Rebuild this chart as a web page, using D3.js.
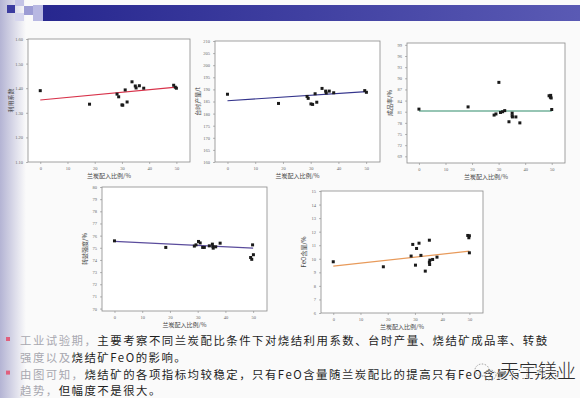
<!DOCTYPE html>
<html>
<head>
<meta charset="utf-8">
<script src="https://cdn.jsdelivr.net/npm/d3@7"></script>
<style>
  body { margin: 0; background: #fafafa; }
  svg { display: block; font-family: "Noto Sans CJK SC", "Noto Sans", sans-serif; }
</style>
</head>
<body>
<div id="slide"></div>
<script>
// shared x axis
const xTicks = [0, 10, 20, 30, 40, 50];
const xTitle = '兰炭配入比例/%';

// 利用系数
const utilX = [0, 18.1, 28.2, 28.8, 30.0, 30.3, 31.2, 31.9, 33.7, 34.9, 35.2, 36.4, 38.0, 49.0, 49.6, 50.0];
const utilY = [1.39, 1.335, 1.376, 1.365, 1.332, 1.331, 1.393, 1.344, 1.426, 1.409, 1.401, 1.41, 1.40, 1.412, 1.404, 1.40];
const utilFit = [1.352, 1.404];
const utilTicks = [1.1, 1.2, 1.3, 1.4, 1.5, 1.6];

// 台时产量
const outX = [0, 18.4, 28.7, 29.1, 30.1, 30.7, 31.6, 32.2, 34.1, 35.4, 35.6, 36.7, 38.3, 49.5, 50.1];
const outY = [188.0, 184.2, 187.1, 186.3, 184.0, 183.8, 188.2, 184.7, 190.4, 189.3, 188.5, 189.3, 188.6, 189.5, 188.8];
const outFit = [185.3, 189.1];
const outTicks = [160, 165, 170, 175, 180, 185, 190, 195, 200, 205, 210];

// 成品率
const yieldX = [0, 18.5, 28.3, 29.0, 30.1, 30.7, 31.5, 32.3, 33.9, 35.1, 35.1, 35.2, 36.5, 38.0, 49.0, 49.5, 49.8, 49.6, 50.0];
const yieldY = [81.7, 82.3, 80.1, 80.4, 88.9, 80.8, 81.0, 81.3, 78.3, 80.6, 79.9, 79.6, 79.6, 78.0, 85.3, 84.9, 84.7, 85.4, 81.6];
const yieldFit = [81.2, 81.2];
const yieldTicks = [69, 72, 75, 78, 81, 84, 87, 90, 93, 96, 99];

// 转鼓强度
const drumX = [0, 18.5, 28.8, 29.4, 30.3, 30.9, 31.8, 32.4, 34.2, 35.3, 35.5, 35.6, 36.5, 38.1, 49.8, 49.1, 49.5, 50.1];
const drumY = [75.57, 75.03, 75.14, 75.24, 75.52, 75.4, 75.03, 75.03, 75.16, 75.3, 75.1, 74.97, 75.08, 75.38, 75.24, 74.2, 74.05, 74.43];
const drumFit = [75.52, 74.97];
const drumTicks = [70, 71, 72, 73, 74, 75, 76, 77, 78, 79, 80];

// FeO含量
const feoX = [0, 18.4, 28.6, 29.2, 30.2, 30.6, 31.5, 32.2, 33.8, 35.3, 35.3, 35.4, 35.5, 36.5, 38.1, 49.4, 49.8, 50.0, 50.0];
const feoY = [9.78, 9.41, 10.2, 11.06, 9.53, 10.76, 11.15, 10.25, 9.09, 11.37, 9.75, 9.58, 9.9, 9.95, 10.12, 11.72, 11.55, 11.7, 10.44];
const feoFit = [9.46, 10.56];
const feoTicks = [6, 7, 8, 9, 10, 11, 12, 13, 14, 15];

const bulletLines = [
  ['工业试验期，', '主要考察不同兰炭配比条件下对烧结利用系数、台时产量、烧结矿成品率、转鼓'],
  ['强度以及', '烧结矿FeO的影响。'],
  ['由图可知，', '烧结矿的各项指标均较稳定，只有FeO含量随兰炭配比的提高只有FeO含量有上升的'],
  ['趋势，', '但幅度不是很大。']
];

const W = 580, H = 398;
const svg = d3.select('#slide').append('svg')
  .attr('width', W)
  .attr('height', H);

const defs = svg.append('defs');
const gl = defs.append('linearGradient').attr('id', 'leftStrip');
gl.append('stop').attr('offset', '0%').attr('stop-color', '#b4b4d4');
gl.append('stop').attr('offset', '100%').attr('stop-color', '#fafafa');
const gb = defs.append('linearGradient').attr('id', 'topBar');
gb.append('stop').attr('offset', '0%').attr('stop-color', '#26268e');
gb.append('stop').attr('offset', '100%').attr('stop-color', '#5a5ab4');

// slide chrome
svg.append('rect').attr('width', W).attr('height', H).attr('fill', '#fafafa');
svg.append('rect').attr('x', 0).attr('y', 0).attr('width', 26).attr('height', H).attr('fill', 'url(#leftStrip)');
svg.append('rect').attr('x', 33).attr('y', 5).attr('width', W - 33).attr('height', 16).attr('fill', 'url(#topBar)');
[[7, 5, 8, 8, '#3c3ca0'], [15, 0, 9, 6, '#c4c4e6'], [24, 6, 9, 9, '#9c9cd4'], [15, 13, 9, 8, '#d6d6ee'], [33, 5, 10, 16, '#b8b8e2']]
  .forEach(s => svg.append('rect').attr('x', s[0]).attr('y', s[1]).attr('width', s[2]).attr('height', s[3]).attr('fill', s[4]));

function drawChart(cfg) {
  const x = d3.scaleLinear().domain([-4.5, 55]).range([cfg.box.l, cfg.box.r]);
  const y = d3.scaleLinear().domain(cfg.yDomain).range([cfg.box.b, cfg.box.t]);
  const g = svg.append('g');

  g.append('rect')
    .attr('x', cfg.box.l).attr('y', cfg.box.t)
    .attr('width', cfg.box.r - cfg.box.l).attr('height', cfg.box.b - cfg.box.t)
    .attr('fill', '#fff').attr('stroke', '#8a8a8a').attr('stroke-width', 0.8);

  const xAxis = g.append('g')
    .attr('transform', `translate(0,${cfg.box.b})`)
    .call(d3.axisBottom(x).tickValues(xTicks).tickSize(2).tickPadding(3));
  const yAxis = g.append('g')
    .attr('transform', `translate(${cfg.box.l},0)`)
    .call(d3.axisLeft(y).tickValues(cfg.ticks).tickSize(2).tickPadding(3).tickFormat(cfg.fmt || d3.format('')));
  [xAxis, yAxis].forEach(a => {
    a.select('.domain').remove();
    a.selectAll('line').attr('stroke', '#888').attr('stroke-width', 0.6);
    a.selectAll('text').attr('font-size', 4.5).attr('fill', '#666').attr('font-family', 'Liberation Serif, serif');
  });

  g.append('line')
    .attr('x1', x(0)).attr('y1', y(cfg.fit[0]))
    .attr('x2', x(50)).attr('y2', y(cfg.fit[1]))
    .attr('stroke', cfg.color).attr('stroke-width', 1.2);

  g.selectAll('rect.pt')
    .data(cfg.xs.map((v, i) => [v, cfg.ys[i]]))
    .join('rect')
    .attr('class', 'pt')
    .attr('x', d => x(d[0]) - 1.5).attr('y', d => y(d[1]) - 1.5)
    .attr('width', 3).attr('height', 3)
    .attr('fill', '#1a1a1a');

  g.append('text')
    .attr('x', (cfg.box.l + cfg.box.r) / 2)
    .attr('y', cfg.box.b + 15.5)
    .attr('text-anchor', 'middle')
    .attr('font-size', 6).attr('fill', '#444')
    .text(xTitle);

  g.append('text')
    .attr('transform', `translate(${cfg.box.l - 15},${(cfg.box.t + cfg.box.b) / 2}) rotate(-90)`)
    .attr('text-anchor', 'middle')
    .attr('font-size', 6).attr('fill', '#444')
    .text(cfg.yTitle);
}

drawChart({ box: { l: 28, t: 39, r: 190, b: 162 }, yDomain: [1.1, 1.6], ticks: utilTicks, fmt: d3.format('.2f'),
  xs: utilX, ys: utilY, fit: utilFit, color: '#d8324a', yTitle: '利用系数' });
drawChart({ box: { l: 215, t: 41, r: 380, b: 162 }, yDomain: [160, 210], ticks: outTicks,
  xs: outX, ys: outY, fit: outFit, color: '#34348c', yTitle: '台时产量/t' });
drawChart({ box: { l: 407, t: 43, r: 565, b: 163 }, yDomain: [67.2, 99.5], ticks: yieldTicks,
  xs: yieldX, ys: yieldY, fit: yieldFit, color: '#2e8c6a', yTitle: '成品率/%' });
drawChart({ box: { l: 102, t: 187, r: 267, b: 311 }, yDomain: [69.8, 80], ticks: drumTicks,
  xs: drumX, ys: drumY, fit: drumFit, color: '#5a4c9c', yTitle: '转鼓强度/%' });
drawChart({ box: { l: 321, t: 191, r: 483, b: 313 }, yDomain: [6, 15], ticks: feoTicks,
  xs: feoX, ys: feoY, fit: feoFit, color: '#e89a5a', yTitle: 'FeO含量/%' });

// bullet text
const textG = svg.append('g');
bulletLines.forEach((ln, i) => {
  const by = 345 + i * 16.8;
  if (i % 2 === 0) {
    textG.append('rect').attr('x', 6).attr('y', by - 8).attr('width', 4).attr('height', 4).attr('fill', '#e0607e');
  }
  const t = textG.append('text')
    .attr('x', 20).attr('y', by)
    .attr('font-size', 11.4).attr('letter-spacing', 1.5).attr('fill', '#1e1e1e');
  t.append('tspan').attr('fill', '#a8a8b0').text(ln[0]);
  t.append('tspan').text(ln[1]);
});

// watermark
const wm = svg.append('g');
wm.append('ellipse').attr('cx', 482).attr('cy', 370).attr('rx', 7).attr('ry', 6)
  .attr('fill', 'none').attr('stroke', '#999').attr('stroke-dasharray', '1.5,1.5');
wm.append('ellipse').attr('cx', 490).attr('cy', 375).attr('rx', 6).attr('ry', 5)
  .attr('fill', 'none').attr('stroke', '#999').attr('stroke-dasharray', '1.5,1.5');
wm.append('text').attr('x', 500).attr('y', 378)
  .attr('font-size', 19).attr('font-weight', 300).attr('fill', '#2a2a2a')
  .attr('stroke', '#fafafa').attr('stroke-width', 2).attr('paint-order', 'stroke')
  .text('天宇镁业');
</script>
</body>
</html>
